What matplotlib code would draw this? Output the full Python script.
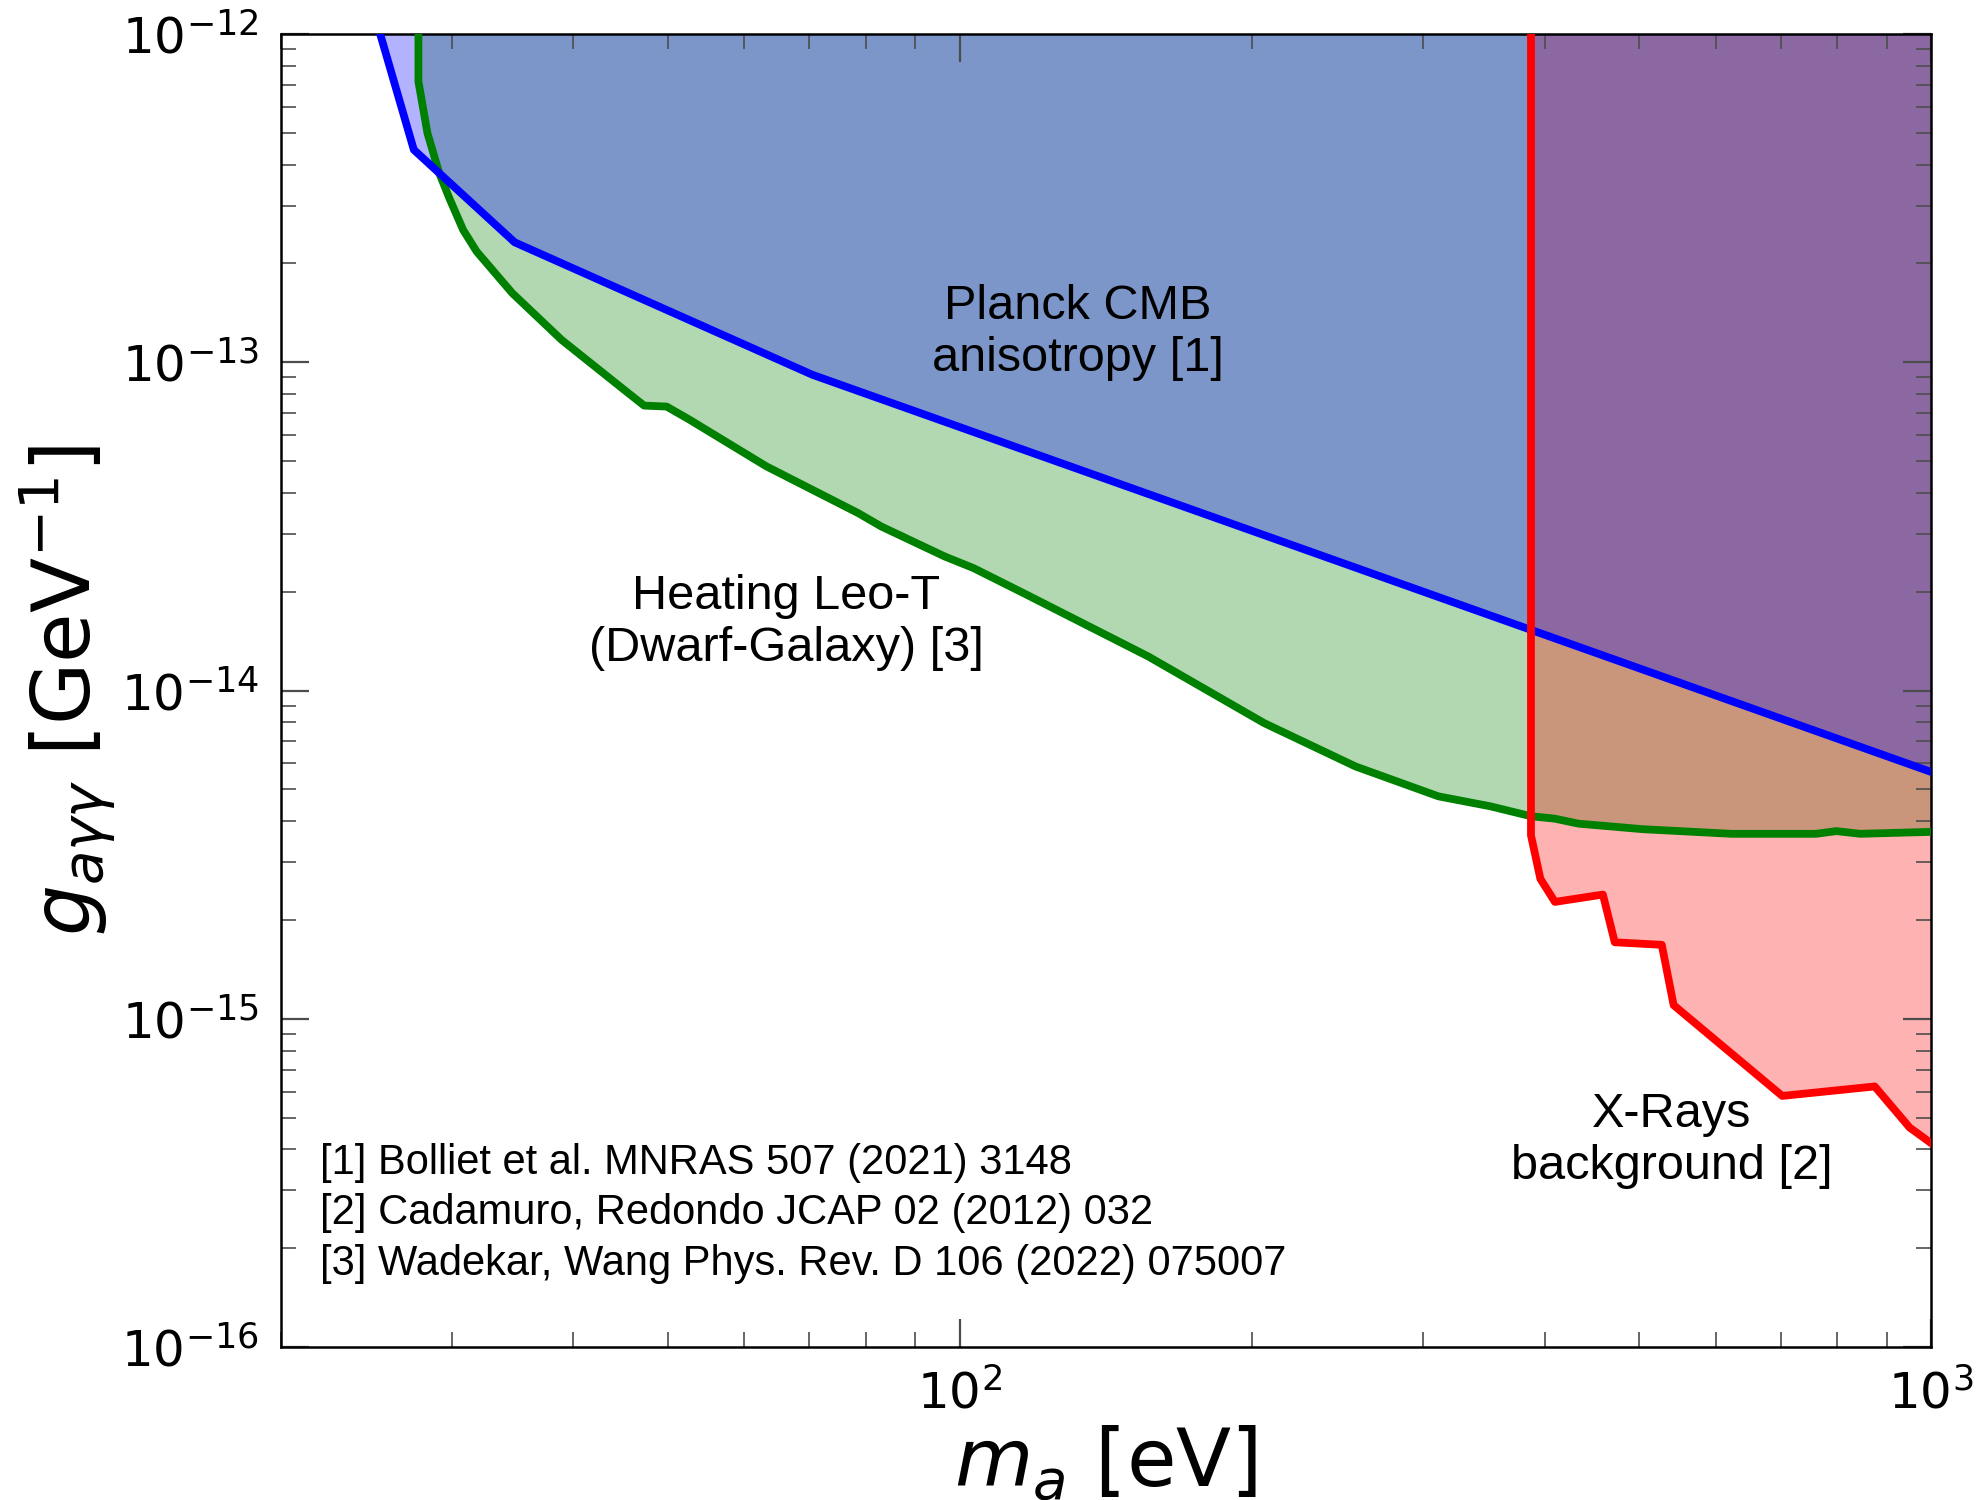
import numpy as np
import matplotlib.pyplot as plt

# Planck CMB anisotropy [1]
planck_m = [25.3, 27.4, 34.8, 70.5, 1000]
planck_g = [1e-12, 4.44e-13, 2.32e-13, 9.16e-14, 5.65e-15]

# Heating Leo-T (Dwarf-Galaxy) [3]
leo_m = [27.7, 27.7, 28.3, 29.1, 29.85, 30.8, 31.8, 34.6, 38.9, 45.1, 47.3, 49.9,
         52.7, 63.2, 78.6, 83.0, 96.5, 103.3, 116.3, 156.3, 205.7, 255.5, 311.0,
         351.6, 387.3, 409.9, 433.5, 505.1, 622.6, 761.6, 799.0, 845.6, 1000]
leo_g = [1e-12, 7.17e-13, 4.99e-13, 3.77e-13, 3.13e-13, 2.53e-13, 2.175e-13, 1.625e-13,
         1.17e-13, 8.25e-14, 7.38e-14, 7.33e-14, 6.68e-14, 4.82e-14, 3.47e-14, 3.16e-14,
         2.56e-14, 2.36e-14, 1.98e-14, 1.27e-14, 7.96e-15, 5.87e-15, 4.76e-15, 4.44e-15,
         4.14e-15, 4.07e-15, 3.93e-15, 3.78e-15, 3.66e-15, 3.66e-15, 3.73e-15, 3.66e-15,
         3.71e-15]

# X-Rays background [2]
xray_m = [387.3, 387.3, 396, 409.9, 459.3, 472.4, 528.1, 543.2, 702.6, 875, 950.6, 1000]
xray_g = [1e-12, 3.62e-15, 2.67e-15, 2.27e-15, 2.39e-15, 1.71e-15, 1.68e-15, 1.10e-15,
          5.82e-16, 6.22e-16, 4.66e-16, 4.18e-16]

refs = ["[1] Bolliet et al. MNRAS 507 (2021) 3148",
        "[2] Cadamuro, Redondo JCAP 02 (2012) 032",
        "[3] Wadekar, Wang Phys. Rev. D 106 (2022) 075007"]

gtop = 1e-12

fig = plt.figure(figsize=(9.91, 7.5), dpi=200)
ax = fig.add_axes([0.1418, 0.102, 0.8325, 0.8753])

# filled regions
ax.fill_between(leo_m, leo_g, gtop, color='green', alpha=0.3, lw=0, zorder=1)
ax.fill_between(xray_m, xray_g, gtop, color='red', alpha=0.3, lw=0, zorder=1)
ax.fill_between(planck_m, planck_g, gtop, color='blue', alpha=0.3, lw=0, zorder=1)

# boundaries
ax.plot(leo_m, leo_g, color='green', lw=2.8, zorder=3)
ax.plot(planck_m, planck_g, color='blue', lw=2.8, zorder=4)
ax.plot(xray_m, xray_g, color='red', lw=2.8, zorder=5)

ax.set_xscale('log')
ax.set_yscale('log')
ax.set_xlim(20, 1000)
ax.set_ylim(1e-16, 1e-12)

ax.tick_params(which='both', direction='in', top=True, right=True, color='0.3',
               labelsize=18, pad=8)
ax.tick_params(which='major', length=10, width=0.8)
ax.tick_params(which='minor', length=5.5, width=0.6)
for s in ax.spines.values():
    s.set_linewidth(0.9)

ax.set_xlabel(r'$m_a$ [eV]', fontsize=29, labelpad=2)
ax.set_ylabel(r'$g_{a\gamma\gamma}$ [GeV$^{-1}$]', fontsize=29, labelpad=1)

tf = dict(family=['Liberation Sans', 'DejaVu Sans'], ha='center', va='center',
          fontsize=17.5, transform=ax.transAxes)
ax.text(0.483, 0.773, 'Planck CMB\nanisotropy [1]', **tf)
ax.text(0.306, 0.5515, 'Heating Leo-T\n(Dwarf-Galaxy) [3]', **tf)
ax.text(0.843, 0.157, 'X-Rays\nbackground [2]', **tf)

for i, r in enumerate(refs):
    ax.text(0.0237, 0.1405 - i * 0.0385, r, family=['Liberation Sans', 'DejaVu Sans'],
            fontsize=15, ha='left', va='center', transform=ax.transAxes)

fig.savefig('out.png', dpi=200)
